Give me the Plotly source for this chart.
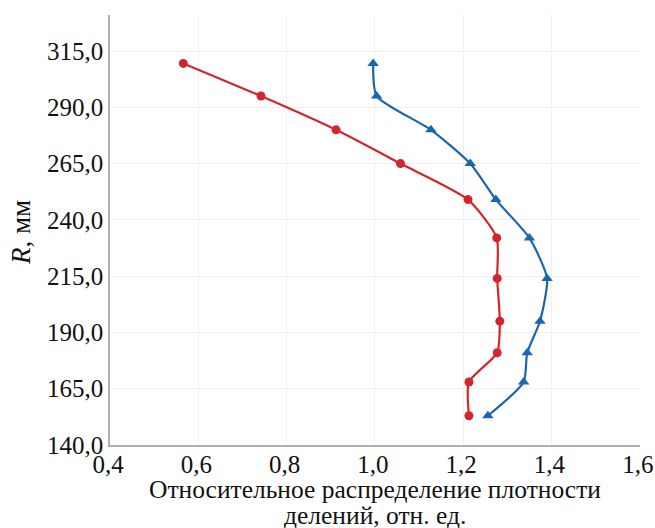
import plotly.graph_objects as go

R_mm = [153, 168, 181, 195, 214, 232, 249, 265, 280, 295, 309.5]
red_density = [1.213, 1.213, 1.277, 1.283, 1.277, 1.276, 1.211, 1.058, 0.912, 0.742, 0.566]
blue_density = [1.256, 1.337, 1.345, 1.374, 1.390, 1.350, 1.274, 1.216, 1.127, 1.004, 0.996]

x_ticks = [0.4, 0.6, 0.8, 1.0, 1.2, 1.4, 1.6]
x_ticktext = ["0,4", "0,6", "0,8", "1,0", "1,2", "1,4", "1,6"]
y_ticks = [140, 165, 190, 215, 240, 265, 290, 315]
y_ticktext = ["140,0", "165,0", "190,0", "215,0", "240,0", "265,0", "290,0", "315,0"]

x_title_1 = "Относительное распределение плотности"
x_title_2 = "делений, отн. ед."
y_title = "<i>R</i>, мм"

RED = "#d1262b"
BLUE = "#1a66b0"
FONT = "Liberation Serif"

fig = go.Figure()
fig.add_trace(go.Scatter(
    x=red_density, y=R_mm, mode="lines+markers",
    line=dict(color=RED, width=2.2, shape="spline", smoothing=0.6),
    marker=dict(symbol="circle", size=9, color=RED),
    showlegend=False,
))
fig.add_trace(go.Scatter(
    x=blue_density, y=R_mm, mode="lines+markers",
    line=dict(color=BLUE, width=2.2, shape="spline", smoothing=0.6),
    marker=dict(symbol="triangle-up", size=10, color=BLUE),
    showlegend=False,
))

fig.update_layout(
    width=655, height=528,
    margin=dict(l=110, r=15, t=15, b=83),
    plot_bgcolor="white", paper_bgcolor="white",
    font=dict(family=FONT, size=24, color="#111111"),
    xaxis=dict(
        range=[0.4, 1.6005], tickvals=x_ticks, ticktext=x_ticktext,
        showgrid=True, gridcolor="#f0f0f0", gridwidth=1,
        showline=True, linecolor="#b0b0b0", linewidth=1.5,
        zeroline=False, ticks="", ticklen=0, automargin=False,
        ticklabeloverflow="allow", ticklabelstandoff=-4, ticklabelshift=-2,
        tickfont=dict(family=FONT, size=25),
    ),
    yaxis=dict(
        range=[140, 331], tickvals=y_ticks, ticktext=y_ticktext,
        showgrid=True, gridcolor="#f0f0f0", gridwidth=1,
        showline=True, linecolor="#b0b0b0", linewidth=1.5,
        zeroline=False, ticks="", ticklen=0, automargin=False,
        ticklabeloverflow="allow",
        tickfont=dict(family=FONT, size=25),
    ),
    annotations=[
        dict(text=x_title_1, xref="paper", yref="paper", x=0.5, y=-0.103,
             xanchor="center", yanchor="middle", showarrow=False,
             font=dict(family=FONT, size=25.5)),
        dict(text=x_title_2, xref="paper", yref="paper", x=0.5, y=-0.163,
             xanchor="center", yanchor="middle", showarrow=False,
             font=dict(family=FONT, size=25.5)),
        dict(text=y_title, xref="paper", yref="paper", x=-0.168, y=0.495,
             xanchor="center", yanchor="middle", showarrow=False, textangle=-90,
             font=dict(family=FONT, size=27)),
    ],
)

# remove the browser's default 8px body margin so the figure fills the window
fig.write_html(
    "out.html",
    config={"displayModeBar": False},
    post_script="document.body.style.margin='0';document.body.style.overflow='hidden';",
)
